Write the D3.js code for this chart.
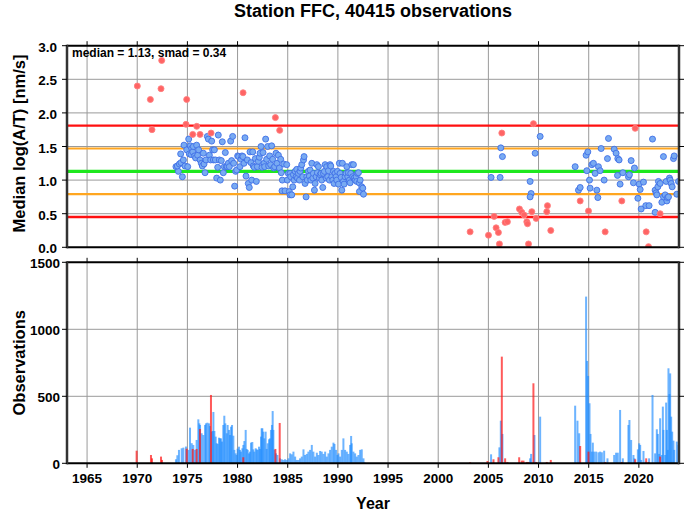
<!DOCTYPE html>
<html><head><meta charset="utf-8">
<script src="https://cdn.jsdelivr.net/npm/d3@7"></script>
<style>
body{margin:0;background:#fff;}
svg text{font-family:"Liberation Sans",Arial,sans-serif;font-weight:bold;fill:#000;}
</style></head><body>
<svg id="c" width="685" height="511"></svg>
<script>
// ---- data ----
const title = "Station FFC, 40415 observations";
const medianVal = 1.13, smadVal = 0.34;
const yearTicks = [1965,1970,1975,1980,1985,1990,1995,2000,2005,2010,2015,2020];
const medTicks = [0,0.5,1,1.5,2,2.5,3];
const obsTicks = [0,500,1000,1500];

const blueMedians = [
[1973.86,1.20],[1974.10,1.13],[1974.00,1.21],[1974.20,1.24],[1974.36,1.26],[1974.50,1.05],[1974.33,1.39],[1974.66,1.52],[1974.60,1.30],[1974.76,1.21],[1974.93,1.45],[1975.03,1.20],[1975.13,1.61],[1975.19,1.39],[1975.29,1.51],[1975.36,1.38],[1975.43,1.47],[1975.53,1.42],[1975.59,1.50],[1975.72,1.36],[1975.82,1.33],[1975.92,1.52],[1976.02,1.37],[1976.12,1.45],[1976.26,1.30],[1976.39,1.25],[1976.49,1.21],[1976.59,1.40],[1976.66,1.24],[1976.76,1.11],[1976.85,1.30],[1976.99,1.65],[1977.09,1.61],[1977.19,1.37],[1977.32,1.30],[1977.42,1.58],[1977.52,1.45],[1977.59,1.30],[1977.69,1.45],[1977.79,1.30],[1977.92,1.03],[1978.02,1.19],[1978.08,1.67],[1978.18,1.30],[1978.28,1.00],[1978.38,1.29],[1978.48,1.57],[1978.58,1.11],[1978.68,1.20],[1978.78,1.41],[1978.88,1.20],[1978.98,1.20],[1979.08,1.25],[1979.18,1.20],[1979.31,1.58],[1979.41,1.29],[1979.51,1.65],[1979.61,1.25],[1979.71,0.91],[1979.81,1.13],[1979.91,1.15],[1980.01,1.36],[1980.11,1.35],[1980.24,1.20],[1980.34,1.31],[1980.44,1.36],[1980.54,1.35],[1980.64,1.25],[1980.74,1.63],[1980.84,1.06],[1980.98,1.30],[1981.07,0.95],[1981.17,0.89],[1981.24,1.42],[1981.34,1.26],[1981.41,1.00],[1981.51,1.42],[1981.57,1.21],[1981.67,1.19],[1981.77,1.32],[1981.87,0.98],[1981.97,1.20],[1982.07,1.28],[1982.17,1.34],[1982.24,1.40],[1982.34,1.50],[1982.44,1.19],[1982.54,1.41],[1982.64,1.25],[1982.70,1.20],[1982.80,1.61],[1982.90,1.31],[1983.00,1.50],[1983.10,1.21],[1983.20,1.36],[1983.30,1.23],[1983.40,1.51],[1983.50,1.31],[1983.60,1.18],[1983.70,1.20],[1983.83,1.40],[1983.93,1.25],[1984.07,1.37],[1984.17,1.18],[1984.30,1.31],[1984.36,1.11],[1984.46,1.00],[1984.43,0.84],[1984.60,1.24],[1984.73,0.84],[1984.90,1.23],[1984.96,1.00],[1985.06,1.10],[1985.16,0.83],[1985.23,0.78],
[1985.24,1.10],[1985.30,1.05],[1985.40,0.78],[1985.50,0.90],[1985.57,1.08],[1985.64,1.00],[1985.74,1.13],[1985.84,1.05],[1985.90,1.16],[1985.97,1.03],[1986.07,1.10],[1986.17,1.00],[1986.23,1.13],[1986.30,1.18],[1986.40,1.23],[1986.50,1.05],[1986.57,1.30],[1986.63,1.35],[1986.73,0.95],[1986.83,0.75],[1986.90,1.05],[1986.96,1.00],[1987.06,1.13],[1987.16,1.06],[1987.23,1.15],[1987.30,1.00],[1987.40,1.25],[1987.50,1.03],[1987.56,1.10],[1987.66,0.85],[1987.73,0.95],[1987.83,1.05],[1987.90,1.23],[1987.96,1.11],[1988.06,1.20],[1988.16,1.03],[1988.23,1.08],[1988.33,1.10],[1988.39,1.00],[1988.49,0.89],[1988.56,1.10],[1988.66,1.13],[1988.73,1.23],[1988.83,1.03],[1988.89,1.20],[1988.99,1.05],[1989.06,1.14],[1989.16,1.00],[1989.22,1.23],[1989.29,1.21],[1989.39,1.05],[1989.49,1.00],[1989.56,1.13],[1989.62,0.95],[1989.72,1.10],[1989.82,1.05],[1989.89,1.00],[1989.96,1.13],[1990.06,0.94],[1990.15,1.25],[1990.22,1.10],[1990.32,1.04],[1990.39,0.85],[1990.45,1.25],[1990.55,0.98],[1990.62,0.94],[1990.72,1.05],[1990.82,1.10],[1990.89,1.20],[1990.99,1.05],[1991.05,1.11],[1991.15,1.00],[1991.22,0.96],[1991.28,1.10],[1991.38,1.23],[1991.48,1.05],[1991.55,1.23],[1991.62,1.03],[1991.72,1.00],[1991.82,1.05],[1991.88,0.98],[1991.95,1.10],[1992.05,1.11],[1992.12,0.96],[1992.22,1.00],[1992.15,0.83],[1992.38,0.90],[1992.48,0.88],[1992.55,0.79],
[2005.27,1.04],[2006.17,1.04],[2006.24,1.48],[2006.40,1.35],[2009.16,0.98],[2009.26,0.80],[2009.16,0.75],[2009.66,1.40],[2010.16,1.65],[2013.65,1.20],[2013.98,0.85],[2014.15,0.89],[2014.74,1.37],[2014.91,1.42],[2014.81,1.14],[2015.08,1.00],[2015.14,0.88],[2015.31,1.23],[2015.47,1.25],[2015.64,1.10],[2015.81,0.85],[2015.91,0.74],[2015.97,1.20],[2016.14,1.14],[2016.24,1.47],[2016.54,1.00],[2016.87,1.32],[2016.97,1.62],[2017.54,1.46],[2017.73,1.40],[2017.90,1.32],[2018.03,1.30],[2017.87,1.07],[2018.13,0.94],[2018.40,1.11],[2018.96,1.05],[2019.06,1.08],[2019.23,1.29],[2019.46,0.96],[2019.56,1.18],[2019.90,0.73],[2020.03,0.94],[2020.13,0.86],[2020.23,0.57],[2020.46,0.97],[2020.69,0.62],[2021.02,0.62],[2021.36,1.61],[2021.62,0.52],[2021.62,0.85],[2021.72,0.81],[2021.79,0.78],[2021.89,0.90],[2021.95,0.98],[2022.12,0.95],[2022.29,0.67],[2022.45,0.75],[2022.45,1.35],[2022.62,0.78],[2022.72,0.98],[2022.79,0.69],[2022.85,0.74],[2022.95,0.75],[2023.05,1.03],[2023.12,1.00],[2023.22,0.95],[2023.32,0.90],[2023.45,1.32],[2023.52,1.36],[2023.78,0.79],[2023.95,0.98]
];
const redMedians = [
[1970.01,2.40],[1972.44,2.78],[1971.31,2.20],[1972.37,2.36],[1971.47,1.75],[1974.93,2.20],[1974.86,1.83],[1975.93,1.80],[1975.53,1.68],[1976.26,1.68],[1977.36,1.70],[1980.55,2.30],[1983.77,1.93],[1984.20,1.74],
[2003.18,0.23],[2005.01,0.18],[2005.57,0.46],[2005.77,0.29],[2006.00,0.22],[2006.10,0.05],[2006.34,1.70],[2006.67,0.37],[2006.90,0.38],[2008.10,0.57],[2008.33,0.52],[2008.56,0.48],[2008.83,0.38],[2008.90,0.35],[2009.00,0.05],[2009.33,0.53],[2009.49,1.84],[2009.76,0.43],[2010.82,0.53],[2010.89,0.62],[2011.22,0.25],[2014.15,0.69],[2014.98,0.54],[2016.64,0.23],[2018.30,0.69],[2019.63,1.77],[2020.73,0.23],[2020.96,0.01],[2022.12,0.50]
];
const blueCounts = [
[1973.86,30],[1974.00,60],[1974.16,100],[1974.43,112],[1974.60,117],[1974.86,125],[1975.09,100],[1975.26,266],[1975.43,150],[1975.59,137],[1975.76,100],[1975.92,174],[1976.09,328],[1976.19,298],[1976.26,286],[1976.42,224],[1976.59,211],[1976.76,286],[1976.85,298],[1976.99,303],[1977.15,298],[1977.25,278],[1977.42,236],[1977.52,241],[1977.59,383],[1977.69,241],[1977.82,199],[1977.92,150],[1978.02,144],[1978.15,191],[1978.25,186],[1978.35,186],[1978.45,162],[1978.58,286],[1978.68,355],[1978.78,298],[1978.92,224],[1979.01,286],[1979.15,249],[1979.25,211],[1979.35,273],[1979.45,286],[1979.58,206],[1979.68,100],[1979.81,74],[1979.91,62],[1980.01,109],[1980.14,124],[1980.24,100],[1980.34,87],[1980.48,112],[1980.58,137],[1980.68,166],[1980.81,249],[1980.91,107],[1981.01,100],[1981.14,74],[1981.24,87],[1981.34,154],[1981.47,159],[1981.57,104],[1981.67,87],[1981.81,112],[1981.91,104],[1982.01,100],[1982.14,124],[1982.24,107],[1982.34,199],[1982.40,261],[1982.47,261],[1982.57,236],[1982.67,186],[1982.80,236],[1982.90,107],[1983.00,149],[1983.14,179],[1983.23,186],[1983.33,249],[1983.43,286],[1983.50,390],[1983.57,249],[1983.67,100],[1983.83,74],[1983.97,62],[1984.23,37],[1984.40,30],[1984.56,25],[1984.73,30],
[1984.90,25],[1985.07,37],[1985.24,74],[1985.40,67],[1985.57,87],[1985.74,50],[1985.90,25],[1986.07,25],[1986.23,37],[1986.40,50],[1986.57,104],[1986.73,62],[1986.90,70],[1987.06,87],[1987.23,100],[1987.40,137],[1987.56,87],[1987.73,50],[1987.90,79],[1988.06,62],[1988.23,92],[1988.39,87],[1988.56,70],[1988.73,87],[1988.89,50],[1989.06,74],[1989.22,100],[1989.39,124],[1989.56,154],[1989.66,144],[1989.82,100],[1989.96,62],[1990.06,74],[1990.22,50],[1990.39,100],[1990.55,186],[1990.72,100],[1990.89,87],[1991.05,70],[1991.22,137],[1991.32,204],[1991.38,149],[1991.55,87],[1991.72,74],[1991.88,50],[1992.05,62],[1992.22,100],[1992.38,104],[1992.55,37],[1992.65,7],
[2005.27,67],[2006.10,119],[2006.24,318],[2006.40,219],[2009.16,37],[2009.26,70],[2009.59,211],[2010.16,348],[2013.65,430],[2013.88,318],[2014.05,224],[2014.74,1244],[2014.84,764],[2014.94,652],[2015.08,448],[2015.18,219],[2015.31,87],[2015.41,154],[2015.54,87],[2015.74,87],[2015.97,82],[2016.14,87],[2016.31,82],[2016.54,94],[2016.87,37],[2017.54,62],[2017.73,79],[2017.90,79],[2018.13,398],[2018.40,37],[2018.96,286],[2019.06,323],[2019.23,174],[2019.46,62],[2019.56,37],[2019.90,104],[2020.03,149],[2020.13,137],[2020.23,25],[2020.46,92],[2020.69,12],[2021.02,37],[2021.36,510],[2021.62,74],[2021.79,254],[2021.89,219],[2022.02,70],[2022.12,336],[2022.29,62],[2022.39,423],[2022.45,249],[2022.62,62],[2022.72,453],[2022.79,249],[2022.88,100],[2022.95,709],[2023.05,517],[2023.12,671],[2023.22,348],[2023.32,236],[2023.45,169],[2023.52,100],[2023.78,162],[2023.95,137]
];
const redCounts = [
[1969.94,94],[1971.37,62],[1971.47,37],[1972.37,50],[1972.47,25],[1974.93,109],[1975.53,107],[1975.92,107],[1976.26,256],[1977.35,510],[1980.57,45],[1983.77,107],[1984.20,301],
[2003.18,8],[2004.91,17],[2005.51,30],[2006.00,45],[2006.34,796],[2006.67,37],[2006.90,10],[2008.07,45],[2008.33,20],[2008.50,20],[2008.83,10],[2009.00,10],[2009.49,597],[2009.76,10],[2010.82,10],[2011.22,25],[2014.15,129],[2014.98,87],[2016.64,10],[2018.30,10],[2019.63,30],[2020.73,37],[2020.96,10],[2022.12,50]
];

// ---- layout ----
const svg = d3.select("#c");
const L = 67, R = 679;
const top1 = 45.7, bot1 = 247.3, top2 = 262.3, bot2 = 463.3;
const x = d3.scaleLinear().domain([1963, 2024]).range([L, R]);
const y1 = d3.scaleLinear().domain([0, 3]).range([bot1, top1]);
const y2 = d3.scaleLinear().domain([0, 1500]).range([bot2, top2]);

svg.append("text").attr("x", (L+R)/2).attr("y", 16.5).attr("text-anchor","middle")
  .style("font-size","18px").text(title);

function grid(yScale, yT, y0, y1p) {
  const g = svg.append("g").attr("stroke","#9a9a9a").attr("stroke-width",1);
  g.selectAll("line.v").data(yearTicks).join("line")
    .attr("x1", d=>x(d)).attr("x2", d=>x(d)).attr("y1", y0).attr("y2", y1p);
  g.selectAll("line.h").data(yT).join("line")
    .attr("x1", L).attr("x2", R).attr("y1", d=>yScale(d)).attr("y2", d=>yScale(d));
}
grid(y1, medTicks.slice(1,-1), top1, bot1);
grid(y2, obsTicks.slice(1,-1), top2, bot2);

// reference lines
const refs = [
  {v: medianVal + 2*smadVal, c:"#ff1010", w:2.4},
  {v: medianVal - 2*smadVal, c:"#ff1010", w:2.4},
  {v: medianVal + smadVal, c:"#ffa620", w:2.2},
  {v: medianVal - smadVal, c:"#ffa620", w:2.2},
  {v: medianVal, c:"#1ee81e", w:3.4}
];
svg.append("g").selectAll("line").data(refs).join("line")
  .attr("x1", L).attr("x2", R).attr("y1", d=>y1(d.v)).attr("y2", d=>y1(d.v))
  .attr("stroke", d=>d.c).attr("stroke-width", d=>d.w);

// points
svg.append("clipPath").attr("id","cp1").append("rect")
  .attr("x", L).attr("y", top1).attr("width", R-L).attr("height", bot1-top1);
const pg = svg.append("g").attr("clip-path","url(#cp1)");
pg.selectAll("circle.b").data(blueMedians).join("circle")
  .attr("cx", d=>x(d[0])).attr("cy", d=>y1(d[1])).attr("r", 3.0)
  .attr("fill","#78aaf2").attr("stroke","#3f6fe6").attr("stroke-width",0.9);
pg.selectAll("circle.r").data(redMedians).join("circle")
  .attr("cx", d=>x(d[0])).attr("cy", d=>y1(d[1])).attr("r", 3.0)
  .attr("fill","#ff6464").attr("stroke","#ff8080").attr("stroke-width",0.9);

// bars
const bw = 2;
const bg = svg.append("g");
bg.selectAll("rect.b").data(blueCounts).join("rect")
  .attr("x", d=>x(d[0]) - bw/2).attr("width", bw)
  .attr("y", d=>y2(d[1])).attr("height", d=>bot2 - y2(d[1]))
  .attr("fill","#1e8cff").attr("fill-opacity",0.65);
bg.selectAll("rect.r").data(redCounts).join("rect")
  .attr("x", d=>x(d[0]) - bw/2).attr("width", bw)
  .attr("y", d=>y2(d[1])).attr("height", d=>bot2 - y2(d[1]))
  .attr("fill","#ff1414").attr("fill-opacity",0.7);

// frames and ticks
function frame(t, b) {
  const g = svg.append("g").attr("stroke","#000").attr("fill","none");
  g.append("line").attr("x1",L).attr("x2",R).attr("y1",t).attr("y2",t).attr("stroke-width",2);
  g.append("line").attr("x1",L).attr("x2",R).attr("y1",b).attr("y2",b).attr("stroke-width",2);
  g.append("line").attr("x1",L).attr("x2",L).attr("y1",t-1).attr("y2",b+1).attr("stroke-width",2.5).attr("stroke","#333");
  g.append("line").attr("x1",R).attr("x2",R).attr("y1",t-1).attr("y2",b+1).attr("stroke-width",2.5).attr("stroke","#333");
}
frame(top1, bot1);
frame(top2, bot2);

const tickStyle = g => g.attr("stroke","#000").attr("stroke-width",1);
[top1, top2].forEach(t => {
  svg.append("g").call(tickStyle).selectAll("line").data(yearTicks).join("line")
    .attr("x1", d=>x(d)).attr("x2", d=>x(d)).attr("y1", t-4.5).attr("y2", t);
});
svg.append("g").call(tickStyle).selectAll("line").data(yearTicks).join("line")
  .attr("x1", d=>x(d)).attr("x2", d=>x(d)).attr("y1", bot2).attr("y2", bot2+4.5);
[[y1, medTicks],[y2, obsTicks]].forEach(([s, t]) => {
  const g = svg.append("g").call(tickStyle);
  g.selectAll("line.l").data(t).join("line")
    .attr("x1", L-5).attr("x2", L).attr("y1", d=>s(d)).attr("y2", d=>s(d));
  g.selectAll("line.r").data(t).join("line")
    .attr("x1", R).attr("x2", R+5).attr("y1", d=>s(d)).attr("y2", d=>s(d));
});

// tick labels
svg.append("g").selectAll("text").data(medTicks).join("text")
  .attr("x", 57).attr("y", d=>y1(d)).attr("dy","0.45em").attr("text-anchor","end")
  .style("font-size","13.5px").text(d=>d3.format(".1f")(d));
svg.append("g").selectAll("text").data(obsTicks).join("text")
  .attr("x", 60).attr("y", d=>y2(d)).attr("dy","0.45em").attr("text-anchor","end")
  .style("font-size","13.5px").text(d=>d);
svg.append("g").selectAll("text").data(yearTicks).join("text")
  .attr("x", d=>x(d)).attr("y", 483).attr("text-anchor","middle")
  .style("font-size","13.5px").text(d=>d);

// axis titles
svg.append("text").attr("transform",`translate(25,${(top1+bot1)/2 - 3}) rotate(-90)`)
  .attr("text-anchor","middle").style("font-size","16.5px").text("Median log(A/T) [nm/s]");
svg.append("text").attr("transform",`translate(25,${(top2+bot2)/2}) rotate(-90)`)
  .attr("text-anchor","middle").style("font-size","16.5px").text("Observations");
svg.append("text").attr("x",(L+R)/2).attr("y",509).attr("text-anchor","middle")
  .style("font-size","16px").text("Year");

// annotation
svg.append("text").attr("x",72).attr("y",56.5)
  .style("font-size","12px").text(`median = ${medianVal.toFixed(2)}, smad = ${smadVal.toFixed(2)}`);
</script></body></html>
